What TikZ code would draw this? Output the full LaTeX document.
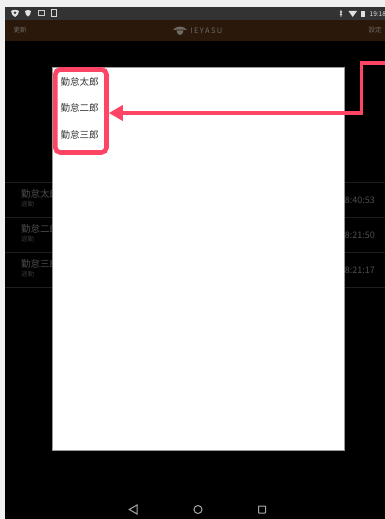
\documentclass[tikz,border=0pt]{standalone}
\usepackage{fontspec}
\setmainfont{Noto Sans CJK JP}
\usetikzlibrary{arrows.meta,shapes.geometric}
\definecolor{pagebg}{HTML}{F0F0F0}
\definecolor{statusbar}{HTML}{333333}
\definecolor{headerbar}{HTML}{2A190B}
\definecolor{accent}{HTML}{FF4565}
\definecolor{rowtext}{HTML}{4E4E4E}
\definecolor{rowsub}{HTML}{383838}
\definecolor{rowline}{HTML}{1E1E1E}
\definecolor{headtext}{HTML}{6E6A64}
\tikzset{
  lbl/.style={inner sep=0pt,font=\fontsize{#1}{#1}\selectfont},
  rowname/.style={lbl=9.5,text=rowtext,anchor=west},
  rowkind/.style={lbl=6.5,text=rowsub,anchor=west},
  rowtime/.style={lbl=9,text=rowtext,anchor=east},
  dlgitem/.style={lbl=9.5,text=black!80,anchor=west},
  navicon/.style={draw=white!65!black,line width=1pt},
  statusicon/.style={fill=white!88!black,draw=none}
}
\begin{document}
\begin{tikzpicture}[x=1pt,y=-1pt]
\useasboundingbox (0,0) rectangle (385,519);
\fill[pagebg] (0,0) rectangle (385,519);
\fill[black] (5,7) rectangle (385,519);
\fill[statusbar] (5,7) rectangle (385,20);
\fill[headerbar] (5,20) rectangle (385,41);
% status icons
\fill[statusicon] (11,11) .. controls (13,9.5) and (17,9.5) .. (19,11) .. controls (19,14) and (17,16) .. (15,17) .. controls (13,16) and (11,14) .. (11,11) -- cycle;
\fill[statusbar] (15,12.7) circle (1.4);
\fill[statusicon] (25,11) .. controls (26.5,9.5) and (29.5,9.5) .. (31,11) .. controls (31,14) and (29.5,15.5) .. (28,16.5) .. controls (26.5,15.5) and (25,14) .. (25,11) -- cycle;
\draw[white!80!black,line width=1pt] (38,11) rectangle (44,16);
\draw[white!85!black,line width=1pt] (51.8,9.8) rectangle (56.5,17);
\node[lbl=6.5,text=white!90!black,anchor=west] (clock) at (369.5,14) {19:18};
\fill[statusicon] (348.5,11) -- (357,11) -- (352.7,17) -- cycle;
\fill[statusicon] (361,11) rectangle (365,17);
\draw[white!85!black,line width=0.6pt] (340,11.5) -- (342,15) (342,11.5) -- (340,15) (341,10) -- (341,17);
% header
\node[lbl=6.5,text=headtext] (upd) at (20,30.5) {更新};
\node[lbl=6.5,text=headtext] (cfg) at (375,30.5) {設定};
\node[lbl=7.5,text=headtext,font=\fontsize{7.5}{7.5}\selectfont\addfontfeatures{LetterSpace=18}] (logo) at (206.5,30.5) {IEYASU};
\fill[headtext] (173,30) .. controls (176,25.5) and (184,25.5) .. (187,30) .. controls (184,29.5) and (176,29.5) .. (173,30) -- cycle;
\fill[headtext] (176.5,30.3) -- (183.5,30.3) .. controls (183,34) and (181,35) .. (180,35) .. controls (179,35) and (177,34) .. (176.5,30.3) -- cycle;
% list rows
\foreach \y in {182,217,252,287}{\draw[rowline,line width=0.7pt] (5,\y) -- (385,\y);}
\node[rowname] (n1) at (21,194) {勤怠太郎};
\node[rowkind] (k1) at (21,204.5) {退勤};
\node[rowtime] (t1) at (375,200.5) {18:40:53};
\node[rowname] (n2) at (21,229) {勤怠二郎};
\node[rowkind] (k2) at (21,239.5) {退勤};
\node[rowtime] (t2) at (375,235.5) {18:21:50};
\node[rowname] (n3) at (21,264) {勤怠三郎};
\node[rowkind] (k3) at (21,274.5) {退勤};
\node[rowtime] (t3) at (375,270.5) {18:21:17};
% dialog
\fill[white] (52.5,67) rectangle (344,450);
\draw[white!60!black,line width=0.7pt] (52.5,67) rectangle (344,450);
\node[dlgitem] (d1) at (60.5,81.5) {勤怠太郎};
\node[dlgitem] (d2) at (60.5,108.2) {勤怠二郎};
\node[dlgitem] (d3) at (60.5,135) {勤怠三郎};
% highlight
\node[draw=accent,line width=4.6pt,rounded corners=5pt,inner sep=0pt,outer sep=0pt,minimum width=51.2pt,minimum height=83pt,anchor=north west] (hl) at (55.3,69.5) {};
\coordinate (from) at (385,63);
\coordinate (bend) at (361.4,63);
\draw[accent,line width=3.6pt,-{Triangle[length=14pt,width=15pt]}] (from) -- (bend) -- (361.4,113) -- ([xshift=2.3pt]hl.east |- 0,113);
% nav bar
\node[regular polygon,regular polygon sides=3,shape border rotate=90,draw=white!65!black,line width=1pt,inner sep=0pt,minimum size=10.5pt] (back) at (134.5,509.5) {};
\node[circle,navicon,inner sep=0pt,minimum size=8pt] (home) at (198,509.5) {};
\node[rectangle,navicon,rounded corners=0.6pt,inner sep=0pt,minimum size=7pt] (recent) at (262,509.5) {};
\end{tikzpicture}
\end{document}
